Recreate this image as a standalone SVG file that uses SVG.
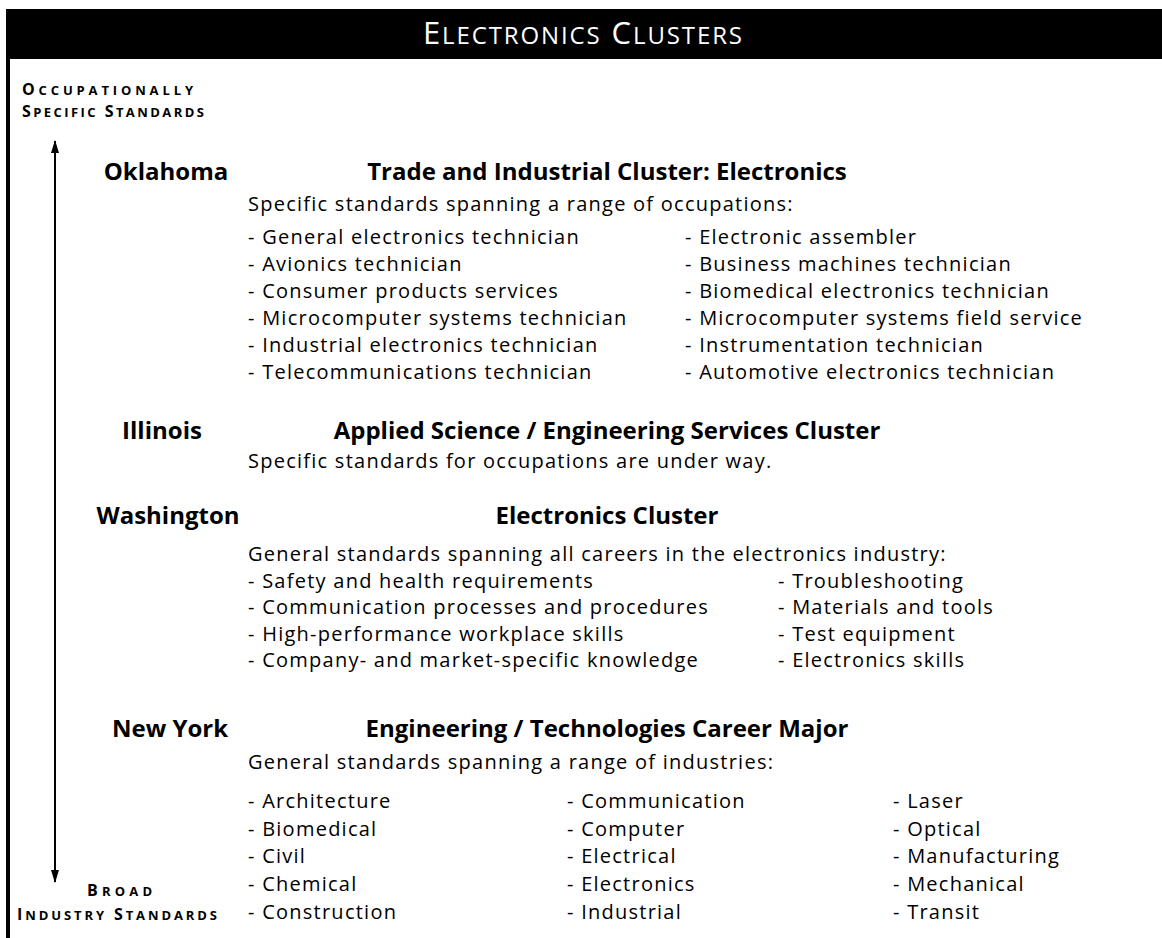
<svg xmlns="http://www.w3.org/2000/svg" width="1162" height="938" viewBox="0 0 1162 938">
<defs>
<style>
text { font-family: "Open Sans", "Noto Sans", "Liberation Sans", sans-serif; fill: #000; }
.st { font-weight: 700; font-size: 24px; text-anchor: middle; }
.hd { font-weight: 700; font-size: 24px; text-anchor: middle; }
.tx { font-size: 20px; letter-spacing: 1.25px; }
.ax { font-weight: 700; font-size: 16px; }
.axs { font-size: 13px; }
.ttl { fill: #fff; font-size: 31px; }
.ttls { font-size: 24px; }
</style>
<marker id="ah" viewBox="0 0 13 8" refX="12" refY="4" markerWidth="13" markerHeight="8" markerUnits="userSpaceOnUse" orient="auto-start-reverse">
<path d="M0,0 L13,4 L0,8 z" fill="#000"/>
</marker>
</defs>
<rect width="1162" height="938" fill="#fff"/>

<g id="frame">
<rect x="6" y="9" width="1156" height="50" fill="#000"/>
<rect x="6" y="58" width="4" height="880" fill="#000"/>
<text class="ttl" x="423" y="44" textLength="319" lengthAdjust="spacing">E<tspan class="ttls">LECTRONICS</tspan> C<tspan class="ttls">LUSTERS</tspan></text>
</g>

<g id="axis-top">
<text class="ax" x="22" y="95" textLength="171" lengthAdjust="spacing">O<tspan class="axs">CCUPATIONALLY</tspan></text>
<text class="ax" x="22" y="117" textLength="182" lengthAdjust="spacing">S<tspan class="axs">PECIFIC</tspan> S<tspan class="axs">TANDARDS</tspan></text>
</g>
<g id="axis-bottom">
<text class="ax" x="87" y="896" textLength="65" lengthAdjust="spacing">B<tspan class="axs">ROAD</tspan></text>
<text class="ax" x="17" y="920" textLength="200" lengthAdjust="spacing">I<tspan class="axs">NDUSTRY</tspan> S<tspan class="axs">TANDARDS</tspan></text>
</g>

<g id="connectors">
<line x1="55" y1="141" x2="55" y2="882" stroke="#000" stroke-width="2" marker-start="url(#ah)" marker-end="url(#ah)"/>
</g>

<g id="oklahoma">
<text class="st" x="166" y="180">Oklahoma</text>
<text class="hd" x="607" y="180">Trade and Industrial Cluster: Electronics</text>
<text class="tx" x="248" y="211">Specific standards spanning a range of occupations:</text>
<text class="tx" x="248" y="244">- General electronics technician</text>
<text class="tx" x="248" y="271">- Avionics technician</text>
<text class="tx" x="248" y="298">- Consumer products services</text>
<text class="tx" x="248" y="325">- Microcomputer systems technician</text>
<text class="tx" x="248" y="352">- Industrial electronics technician</text>
<text class="tx" x="248" y="379">- Telecommunications technician</text>
<text class="tx" x="685" y="244">- Electronic assembler</text>
<text class="tx" x="685" y="271">- Business machines technician</text>
<text class="tx" x="685" y="298">- Biomedical electronics technician</text>
<text class="tx" x="685" y="325">- Microcomputer systems field service</text>
<text class="tx" x="685" y="352">- Instrumentation technician</text>
<text class="tx" x="685" y="379">- Automotive electronics technician</text>
</g>

<g id="illinois">
<text class="st" x="162" y="439">Illinois</text>
<text class="hd" x="607" y="439">Applied Science / Engineering Services Cluster</text>
<text class="tx" x="248" y="468">Specific standards for occupations are under way.</text>
</g>

<g id="washington">
<text class="st" x="168" y="524">Washington</text>
<text class="hd" x="607" y="524">Electronics Cluster</text>
<text class="tx" x="248" y="561">General standards spanning all careers in the electronics industry:</text>
<text class="tx" x="248" y="588">- Safety and health requirements</text>
<text class="tx" x="248" y="614">- Communication processes and procedures</text>
<text class="tx" x="248" y="641">- High-performance workplace skills</text>
<text class="tx" x="248" y="667">- Company- and market-specific knowledge</text>
<text class="tx" x="778" y="588">- Troubleshooting</text>
<text class="tx" x="778" y="614">- Materials and tools</text>
<text class="tx" x="778" y="641">- Test equipment</text>
<text class="tx" x="778" y="667">- Electronics skills</text>
</g>

<g id="new-york">
<text class="st" x="170" y="737">New York</text>
<text class="hd" x="607" y="737">Engineering / Technologies Career Major</text>
<text class="tx" x="248" y="769">General standards spanning a range of industries:</text>
<text class="tx" x="248" y="808">- Architecture</text>
<text class="tx" x="248" y="836">- Biomedical</text>
<text class="tx" x="248" y="863">- Civil</text>
<text class="tx" x="248" y="891">- Chemical</text>
<text class="tx" x="248" y="919">- Construction</text>
<text class="tx" x="567" y="808">- Communication</text>
<text class="tx" x="567" y="836">- Computer</text>
<text class="tx" x="567" y="863">- Electrical</text>
<text class="tx" x="567" y="891">- Electronics</text>
<text class="tx" x="567" y="919">- Industrial</text>
<text class="tx" x="893" y="808">- Laser</text>
<text class="tx" x="893" y="836">- Optical</text>
<text class="tx" x="893" y="863">- Manufacturing</text>
<text class="tx" x="893" y="891">- Mechanical</text>
<text class="tx" x="893" y="919">- Transit</text>
</g>
</svg>
